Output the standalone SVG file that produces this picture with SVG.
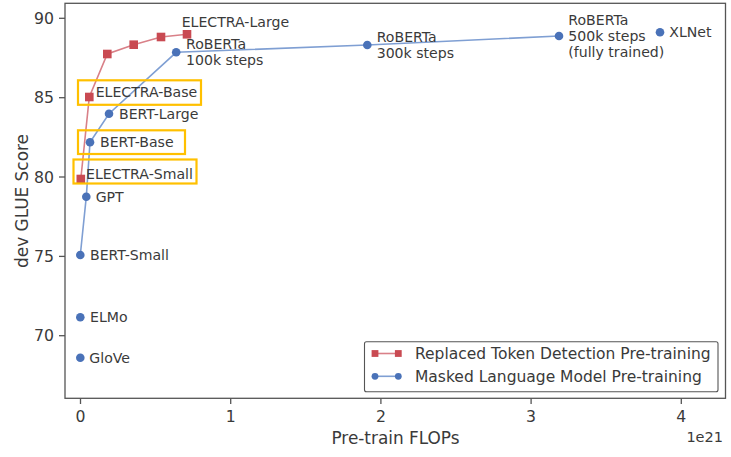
<svg xmlns="http://www.w3.org/2000/svg" width="731" height="457" viewBox="0 0 731 457">
  <style>
    text { font-family: "DejaVu Sans", "Liberation Sans", sans-serif; fill: #3a3a3a; }
    .ann { font-size: 14.1px; }
    .tick { font-size: 15.7px; }
    .axlab { font-size: 16.9px; }
    .leg { font-size: 15.5px; }
    .frame { fill: none; stroke: #555; stroke-width: 1.3; }
    .tk { stroke: #555; stroke-width: 1.3; }
    .red-line { fill: none; stroke: #d98088; stroke-width: 1.6; }
    .blue-line { fill: none; stroke: #7f9fd3; stroke-width: 1.6; }
    .hl { fill: none; stroke: #ffc000; stroke-width: 2.2; }
  </style>
  <defs>
    <rect id="sq" x="-4.3" y="-4.3" width="8.6" height="8.6" fill="#c94a52"/>
    <circle id="dot" r="4.3" fill="#4a72b8"/>
  </defs>

  <rect width="731" height="457" fill="#fff"/>

  <!-- axes frame and ticks -->
  <g id="axes">
    <rect class="frame" x="65" y="3.3" width="660.5" height="395"/>
    <g id="y-ticks">
      <line class="tk" x1="59" y1="18.3" x2="65" y2="18.3"/>
      <line class="tk" x1="59" y1="97.7" x2="65" y2="97.7"/>
      <line class="tk" x1="59" y1="177" x2="65" y2="177"/>
      <line class="tk" x1="59" y1="256.4" x2="65" y2="256.4"/>
      <line class="tk" x1="59" y1="335.7" x2="65" y2="335.7"/>
      <text class="tick" x="54" y="24" text-anchor="end">90</text>
      <text class="tick" x="54" y="103.4" text-anchor="end">85</text>
      <text class="tick" x="54" y="182.7" text-anchor="end">80</text>
      <text class="tick" x="54" y="262.1" text-anchor="end">75</text>
      <text class="tick" x="54" y="341.4" text-anchor="end">70</text>
    </g>
    <g id="x-ticks">
      <line class="tk" x1="80.5" y1="398.3" x2="80.5" y2="404"/>
      <line class="tk" x1="230.7" y1="398.3" x2="230.7" y2="404"/>
      <line class="tk" x1="380.9" y1="398.3" x2="380.9" y2="404"/>
      <line class="tk" x1="531.1" y1="398.3" x2="531.1" y2="404"/>
      <line class="tk" x1="681.3" y1="398.3" x2="681.3" y2="404"/>
      <text class="tick" x="80.5" y="422" text-anchor="middle">0</text>
      <text class="tick" x="230.7" y="422" text-anchor="middle">1</text>
      <text class="tick" x="380.9" y="422" text-anchor="middle">2</text>
      <text class="tick" x="531.1" y="422" text-anchor="middle">3</text>
      <text class="tick" x="681.3" y="422" text-anchor="middle">4</text>
    </g>
    <text class="axlab" x="395.5" y="443.5" text-anchor="middle">Pre-train FLOPs</text>
    <text class="tick" x="723" y="441.5" text-anchor="end" style="font-size:14.5px">1e21</text>
    <text class="axlab" transform="translate(28 201) rotate(-90)" text-anchor="middle">dev GLUE Score</text>
  </g>

  <!-- connectors: the two pre-training curves -->
  <g id="connectors">
    <polyline class="red-line" points="80.8,179 89.3,97 107.3,54 133.7,44.7 161,37 187,34.3"/>
    <polyline class="blue-line" points="80.3,255 86.3,196.7 90,142.3 109,113.7 176.2,52.3 367.3,45 559,36"/>
  </g>

  <!-- ELECTRA (replaced token detection) -->
  <g id="electra-small">
    <use href="#sq" x="80.8" y="179"/>
    <text class="ann" x="86" y="179.2">ELECTRA-Small</text>
    <rect class="hl" x="73.5" y="159.5" width="123" height="24"/>
  </g>
  <g id="electra-base">
    <use href="#sq" x="89.3" y="97"/>
    <text class="ann" x="95.7" y="97.3">ELECTRA-Base</text>
    <rect class="hl" x="78" y="80.3" width="123" height="24.5"/>
  </g>
  <g id="electra-mid-1"><use href="#sq" x="107.3" y="54"/></g>
  <g id="electra-mid-2"><use href="#sq" x="133.7" y="44.7"/></g>
  <g id="electra-mid-3"><use href="#sq" x="161" y="37"/></g>
  <g id="electra-large">
    <use href="#sq" x="187" y="34.3"/>
    <text class="ann" x="181.7" y="26.8">ELECTRA-Large</text>
  </g>

  <!-- masked language model baselines -->
  <g id="bert-small">
    <use href="#dot" x="80.3" y="255"/>
    <text class="ann" x="90" y="260">BERT-Small</text>
  </g>
  <g id="gpt">
    <use href="#dot" x="86.3" y="196.7"/>
    <text class="ann" x="95.7" y="201.8">GPT</text>
  </g>
  <g id="bert-base">
    <use href="#dot" x="90" y="142.3"/>
    <text class="ann" x="100" y="147.4">BERT-Base</text>
    <rect class="hl" x="78" y="130.3" width="107" height="23.7"/>
  </g>
  <g id="bert-large">
    <use href="#dot" x="109" y="113.7"/>
    <text class="ann" x="119" y="119">BERT-Large</text>
  </g>
  <g id="roberta-100k">
    <use href="#dot" x="176.2" y="52.3"/>
    <text class="ann" x="186" y="49.3">RoBERTa</text>
    <text class="ann" x="186" y="64.6">100k steps</text>
  </g>
  <g id="roberta-300k">
    <use href="#dot" x="367.3" y="45"/>
    <text class="ann" x="376.7" y="41.8">RoBERTa</text>
    <text class="ann" x="376.7" y="57.8">300k steps</text>
  </g>
  <g id="roberta-500k">
    <use href="#dot" x="559" y="36"/>
    <text class="ann" x="568.3" y="25">RoBERTa</text>
    <text class="ann" x="568.3" y="41">500k steps</text>
    <text class="ann" x="568.3" y="56.8">(fully trained)</text>
  </g>
  <g id="xlnet">
    <use href="#dot" x="660" y="32.3"/>
    <text class="ann" x="669.3" y="37.3">XLNet</text>
  </g>
  <g id="elmo">
    <use href="#dot" x="80.3" y="317.3"/>
    <text class="ann" x="90" y="322.4">ELMo</text>
  </g>
  <g id="glove">
    <use href="#dot" x="80.3" y="357.7"/>
    <text class="ann" x="89.3" y="362.8">GloVe</text>
  </g>

  <!-- legend -->
  <g id="legend">
    <rect x="364.5" y="341.7" width="353.5" height="50" rx="2" fill="#fff" stroke="#555" stroke-width="1.1"/>
    <line class="red-line" x1="375" y1="353.5" x2="398.3" y2="353.5"/>
    <rect x="371.6" y="350.1" width="6.8" height="6.8" fill="#c94a52"/>
    <rect x="394.9" y="350.1" width="6.8" height="6.8" fill="#c94a52"/>
    <text class="leg" x="415" y="359">Replaced Token Detection Pre-training</text>
    <line class="blue-line" x1="375" y1="376.3" x2="398.3" y2="376.3"/>
    <circle cx="375" cy="376.3" r="3.4" fill="#4a72b8"/>
    <circle cx="398.3" cy="376.3" r="3.4" fill="#4a72b8"/>
    <text class="leg" x="415" y="382">Masked Language Model Pre-training</text>
  </g>
</svg>
